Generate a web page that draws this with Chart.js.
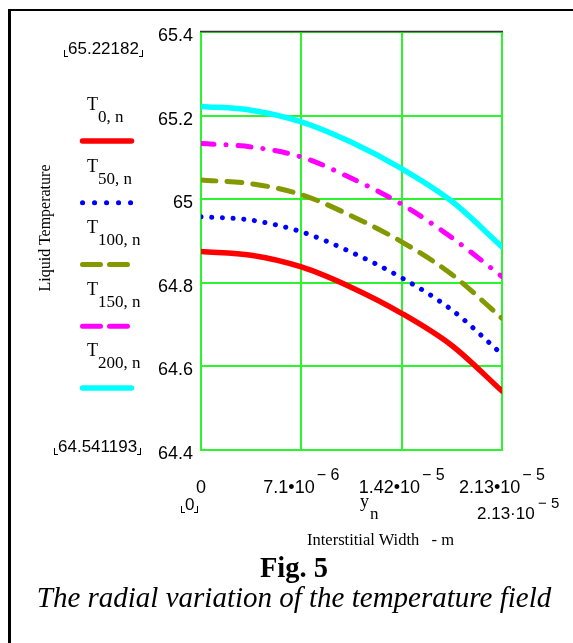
<!DOCTYPE html>
<html>
<head>
<meta charset="utf-8">
<script src="https://cdn.jsdelivr.net/npm/chart.js@4.4.1/dist/chart.umd.min.js"></script>
<style>
  html, body { margin: 0; padding: 0; background: #fff; }
  body { width: 573px; height: 643px; position: relative; overflow: hidden; }
  #frame { position: absolute; left: 8px; top: 9px; width: 700px; height: 700px;
           border-top: 2px solid #000; border-left: 3px solid #000; }
  #chart { position: absolute; left: 0; top: 0; }
  .t { position: absolute; white-space: pre; line-height: 1; color: #000; }
  .serif { font-family: "Liberation Serif", "Times New Roman", serif; }
  .sans { font-family: "Liberation Sans", Arial, sans-serif; }
  .mark { display: inline-block; position: relative; padding: 0 4px; }
  .mark::before, .mark::after { content: ''; position: absolute; bottom: 0; width: 3px; height: 6px; }
  .mark::before { left: 0; border-left: 1px solid #000; border-bottom: 1px solid #000; }
  .mark::after { right: 0; border-right: 1px solid #000; border-bottom: 1px solid #000; }
  #ytitle { left: 45px; top: 228px; font-size: 16px; transform: translate(-50%, -50%) rotate(-90deg); }
</style>
</head>
<body>
<div id="frame"></div>
<canvas id="chart" width="573" height="643"></canvas>

<div class="t sans" style="left:64px; top:40px; font-size:17px;"><span class="mark">65.22182</span></div>
<div class="t sans" style="left:54px; top:438px; font-size:17px;"><span class="mark">64.541193</span></div>
<div class="t sans" style="left:181px; top:496px; font-size:17px;"><span class="mark">0</span></div>
<div class="t serif" id="ytitle">Liquid Temperature</div>
<div class="t serif" style="left:360px; top:492px; font-size:18px;">y</div>
<div class="t serif" style="left:370px; top:505px; font-size:17px;">n</div>
<div class="t sans" style="left:477px; top:505px; font-size:17px;">2.13·10</div>
<div class="t sans" style="left:538px; top:495px; font-size:15px;">− 5</div>
<div class="t serif" style="left:307px; top:532px; font-size:16.5px;">Interstitial Width   - m</div>
<div class="t serif" style="left:294px; top:554px; font-size:28.5px; font-weight:bold; transform:translateX(-50%);">Fig. 5</div>
<div class="t serif" style="left:294px; top:583px; font-size:29px; font-style:italic; transform:translateX(-50%);">The radial variation of the temperature field</div>

<script>
// Interstitial width y_n (m)
const xValues = [0, 3.55e-6, 7.1e-6, 1.065e-5, 1.42e-5, 1.775e-5, 2.13e-5]

// Liquid temperature for each time step
const tempT0 = [64.875, 64.866, 64.838, 64.789, 64.727, 64.650, 64.541]
const tempT50 = [64.958, 64.950, 64.922, 64.873, 64.812, 64.735, 64.629]
const tempT100 = [65.046, 65.037, 65.011, 64.960, 64.898, 64.820, 64.715]
const tempT150 = [65.133, 65.125, 65.101, 65.050, 64.988, 64.908, 64.815]
const tempT200 = [65.222, 65.213, 65.185, 65.136, 65.073, 64.995, 64.886]

const seriesSubs = ['0,n', '50,n', '100,n', '150,n', '200,n']

// Axis ticks
const xTicks = [0, 7.1e-6, 1.42e-5, 2.13e-5]
const xTickBase = ['0', '7.1•10', '1.42•10', '2.13•10']
const xTickExp = ['', '− 6', '− 5', '− 5']
const yTicks = [64.4, 64.6, 64.8, 65, 65.2, 65.4]

const GRID = '#2df52d'

// Legend labels (T with subscript) on the left
seriesSubs.forEach((sub, i) => {
  const baseT = 110 + 61.5 * i
  const t = document.createElement('div')
  t.className = 't serif'
  t.style.cssText = `left:87px; top:${baseT - 15}px; font-size:18px;`
  t.textContent = 'T'
  document.body.appendChild(t)
  const s = document.createElement('div')
  s.className = 't serif'
  s.style.cssText = `left:98px; top:${baseT + 12 - 14}px; font-size:17px;`
  s.textContent = sub.replace(',', ', ')
  document.body.appendChild(s)
})

const legendDash = [[], [0.1, 11.9], [18, 9], [18, 9], []]

const overlay = {
  id: 'overlay',
  afterDraw(chart) {
    const ctx = chart.ctx
    const area = chart.chartArea
    const xs = chart.scales.x
    ctx.save()

    // dark top edge of the plot
    ctx.strokeStyle = '#333'
    ctx.lineWidth = 1.5
    ctx.beginPath()
    ctx.moveTo(area.left - 1, area.top - 0.5)
    ctx.lineTo(area.right + 1, area.top - 0.5)
    ctx.stroke()

    // x tick labels with exponents
    ctx.fillStyle = '#000'
    ctx.textBaseline = 'alphabetic'
    ctx.textAlign = 'left'
    xTicks.forEach((v, i) => {
      ctx.font = '18px "Liberation Sans", Arial, sans-serif'
      const wb = ctx.measureText(xTickBase[i]).width
      ctx.font = '16px "Liberation Sans", Arial, sans-serif'
      const we = xTickExp[i] ? ctx.measureText(xTickExp[i]).width + 2 : 0
      const x0 = xs.getPixelForValue(v) - (wb + we) / 2
      ctx.font = '18px "Liberation Sans", Arial, sans-serif'
      ctx.fillText(xTickBase[i], x0, 493)
      if (xTickExp[i]) {
        ctx.font = '16px "Liberation Sans", Arial, sans-serif'
        ctx.fillText(xTickExp[i], x0 + wb + 2, 480)
      }
    })

    // legend line samples
    chart.data.datasets.forEach((ds, i) => {
      const y = 141 + 61.75 * i
      ctx.strokeStyle = ds.borderColor
      ctx.lineWidth = ds.borderWidth
      ctx.lineCap = 'round'
      ctx.setLineDash(legendDash[i])
      ctx.beginPath()
      ctx.moveTo(82.5, y)
      ctx.lineTo(131.5, y)
      ctx.stroke()
    })
    ctx.restore()
  }
}

const series = (data, color, dash, width) => ({
  data: data.map((t, i) => ({ x: xValues[i], y: t })),
  borderColor: color,
  borderWidth: width,
  borderDash: dash,
  borderCapStyle: 'round',
  borderJoinStyle: 'round',
  pointRadius: 0,
  cubicInterpolationMode: 'monotone',
  fill: false
})

new Chart(document.getElementById('chart').getContext('2d'), {
  type: 'line',
  data: {
    datasets: [
      series(tempT0, '#ff0000', [], 5.5),
      series(tempT50, '#0000ff', [0.1, 10.6], 5),
      series(tempT100, '#849800', [15, 11], 5),
      series(tempT150, '#ff00ff', [13, 12, 0.1, 12], 5),
      series(tempT200, '#00ffff', [], 5.5)
    ]
  },
  options: {
    responsive: false,
    animation: false,
    devicePixelRatio: 1,
    layout: { padding: { top: 32, right: 71, bottom: 193, left: 0 } },
    plugins: { legend: { display: false }, tooltip: { enabled: false } },
    scales: {
      x: {
        type: 'linear',
        min: 0,
        max: 2.13e-5,
        afterBuildTicks: (s) => { s.ticks = xTicks.map((v) => ({ value: v })) },
        afterFit: (s) => { s.height = 0 },
        ticks: { display: false },
        grid: { color: GRID, lineWidth: 2, drawTicks: false },
        border: { display: true, color: GRID, width: 2 }
      },
      y: {
        type: 'linear',
        min: 64.4,
        max: 65.4,
        afterBuildTicks: (s) => { s.ticks = yTicks.map((v) => ({ value: v })) },
        afterFit: (s) => { s.width = 201 },
        ticks: {
          color: '#000',
          padding: 8,
          labelOffset: 4,
          font: { family: '"Liberation Sans", Arial, sans-serif', size: 18 },
          callback: (v) => String(Number(v.toFixed(1)))
        },
        grid: { color: GRID, lineWidth: 2, drawTicks: false },
        border: { display: true, color: GRID, width: 2 }
      }
    }
  },
  plugins: [overlay]
})
</script>
</body>
</html>
